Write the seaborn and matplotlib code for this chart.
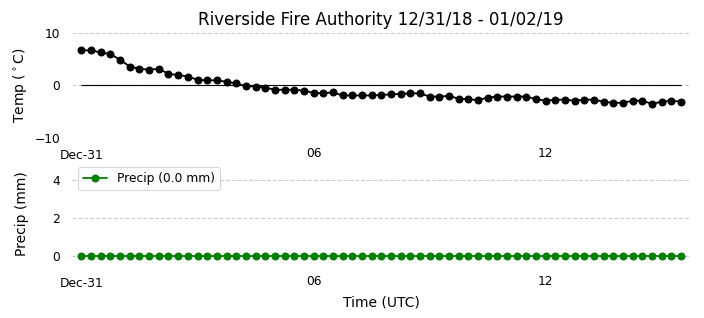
import matplotlib
matplotlib.use("Agg")
import matplotlib.pyplot as plt
import matplotlib.dates as mdates
import numpy as np
import pandas as pd
import seaborn as sns

# ---- data ----
start_time = "2018-12-31 00:00"
n_obs = 63
obs_freq = "15min"
temp_c = [6.7, 6.7, 6.3, 6.0, 4.9, 3.6, 3.2, 3.0, 3.2, 2.2, 2.0, 1.7, 1.1, 1.0, 1.0, 0.7,
          0.4, -0.1, -0.2, -0.4, -0.8, -0.8, -0.8, -1.0, -1.4, -1.5, -1.3, -1.9, -1.9, -1.9,
          -1.9, -1.8, -1.7, -1.6, -1.5, -1.5, -2.1, -2.1, -2.0, -2.5, -2.6, -2.8, -2.3, -2.1,
          -2.1, -2.1, -2.1, -2.6, -2.9, -2.7, -2.7, -2.9, -2.7, -2.7, -3.1, -3.3, -3.3, -2.9,
          -2.9, -3.5, -3.1, -2.9, -3.1]
precip_mm = [0.0] * 63
title = "Riverside Fire Authority 12/31/18 - 01/02/19"
temp_label = "Temp ($^\\circ$C)"
precip_label = "Precip (mm)"
xlabel = "Time (UTC)"
temp_yticks = [-10, 0, 10]
precip_yticks = [0, 2, 4]

times = pd.date_range(start_time, periods=n_obs, freq=obs_freq)
df = pd.DataFrame({"time": times, "temp": temp_c, "precip": precip_mm})

sns.set_theme(context="paper", style="whitegrid")
plt.rcParams["font.family"] = ["DejaVu Sans"]
plt.rcParams["text.color"] = "black"
plt.rcParams["axes.labelcolor"] = "black"
plt.rcParams["xtick.color"] = "black"
plt.rcParams["ytick.color"] = "black"

fig, (ax1, ax2) = plt.subplots(2, 1, figsize=(7.04, 3.18), dpi=100)
fig.subplots_adjust(left=0.102, right=0.981, top=0.896, bottom=0.164, hspace=0.22)

pad = pd.Timedelta(obs_freq)
xlim = (times[0] - pad, times[-1] + pad)

sns.lineplot(data=df, x="time", y="temp", ax=ax1, color="black", marker="o",
             markeredgecolor="black", markersize=5, linewidth=1.3)
ax1.hlines(0, times[0], times[-1], color="black", linewidth=0.8)
ax1.set_ylim(-10, 10)
ax1.set_yticks(temp_yticks)
ax1.set_ylabel(temp_label, fontsize=10)
ax1.set_xlabel("")
ax1.set_title(title, fontsize=12, color="black")

total = sum(precip_mm)
sns.lineplot(data=df, x="time", y="precip", ax=ax2, color="green", marker="o",
             markeredgecolor="green", markersize=5, linewidth=1.3,
             label=f"Precip ({total:.1f} mm)")
ax2.set_ylim(-0.5, 5)
ax2.set_yticks(precip_yticks)
ax2.set_ylabel(precip_label, fontsize=10)
ax2.set_xlabel(xlabel, fontsize=10)
leg = ax2.legend(loc="upper left", fontsize=8.8)
for t in leg.get_texts():
    t.set_color("black")

for ax in (ax1, ax2):
    ax.set_xlim(*xlim)
    ax.xaxis.set_major_locator(mdates.DayLocator())
    ax.xaxis.set_major_formatter(mdates.DateFormatter("%b-%d"))
    ax.xaxis.set_minor_locator(mdates.HourLocator(byhour=[6, 12, 18]))
    ax.xaxis.set_minor_formatter(mdates.DateFormatter("%H"))
    ax.grid(False, axis="x", which="both")
    ax.grid(True, axis="y", linestyle="--", color="#cccccc", linewidth=0.8)
    ax.tick_params(axis="both", which="both", labelsize=8.8, colors="black")
    sns.despine(ax=ax, left=True, bottom=True)

fig.align_ylabels([ax1, ax2])
fig.savefig("out.png", dpi=100)
